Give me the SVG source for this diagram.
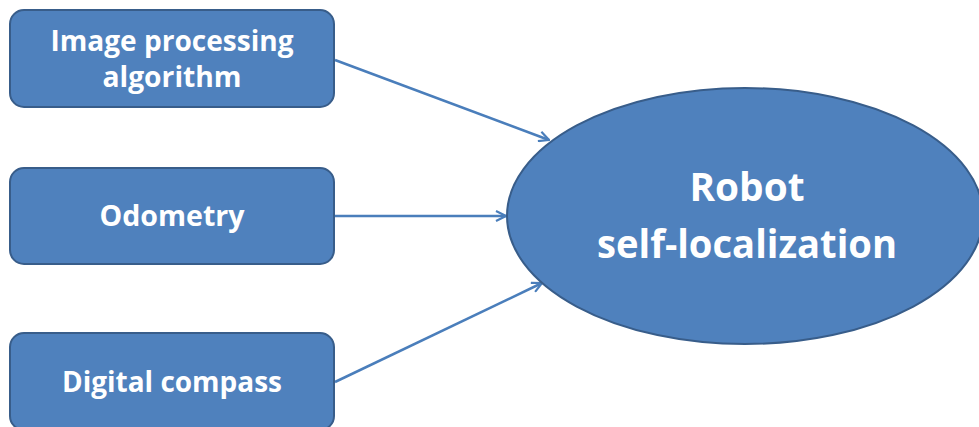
<svg xmlns="http://www.w3.org/2000/svg" width="979" height="427" viewBox="0 0 979 427">
<style>
.box{fill:#4F81BD;stroke:#385D8A;stroke-width:2}
.t{fill:#FFFFFF;font-family:"Open Sans","Noto Sans",sans-serif;font-weight:700;font-size:28px;text-anchor:middle}
.big{font-size:40px}
.conn{stroke:#4A7EBB;stroke-width:2.5;fill:none;marker-end:url(#arr)}
</style>
<defs>
<marker id="arr" viewBox="0 0 12 12" refX="11" refY="6" markerWidth="12" markerHeight="12" markerUnits="userSpaceOnUse" orient="auto">
<path d="M1,1 L11,6 L1,11" fill="none" stroke="#4A7EBB" stroke-width="2.2"/>
</marker>
</defs>
<g id="connectors">
<line class="conn" x1="335" y1="60" x2="549" y2="140"/>
<line class="conn" x1="335" y1="216" x2="506" y2="216"/>
<line class="conn" x1="335" y1="382" x2="542" y2="283"/>
</g>
<g id="node-image">
<rect class="box" x="10" y="10" width="324" height="97" rx="14"/>
<text class="t" x="172" y="51" textLength="243" lengthAdjust="spacingAndGlyphs">Image processing</text>
<text class="t" x="172" y="87" textLength="139" lengthAdjust="spacingAndGlyphs">algorithm</text>
</g>
<g id="node-odometry">
<rect class="box" x="10" y="168" width="324" height="96" rx="14"/>
<text class="t" x="172" y="226" textLength="145" lengthAdjust="spacingAndGlyphs">Odometry</text>
</g>
<g id="node-compass">
<rect class="box" x="10" y="333" width="324" height="97" rx="14"/>
<text class="t" x="172" y="392" textLength="220" lengthAdjust="spacingAndGlyphs">Digital compass</text>
</g>
<g id="node-robot">
<ellipse class="box" cx="745" cy="216" rx="238" ry="128"/>
<text class="t big" x="747" y="201" textLength="115" lengthAdjust="spacingAndGlyphs">Robot</text>
<text class="t big" x="747" y="258" textLength="300" lengthAdjust="spacingAndGlyphs">self-localization</text>
</g>
</svg>
